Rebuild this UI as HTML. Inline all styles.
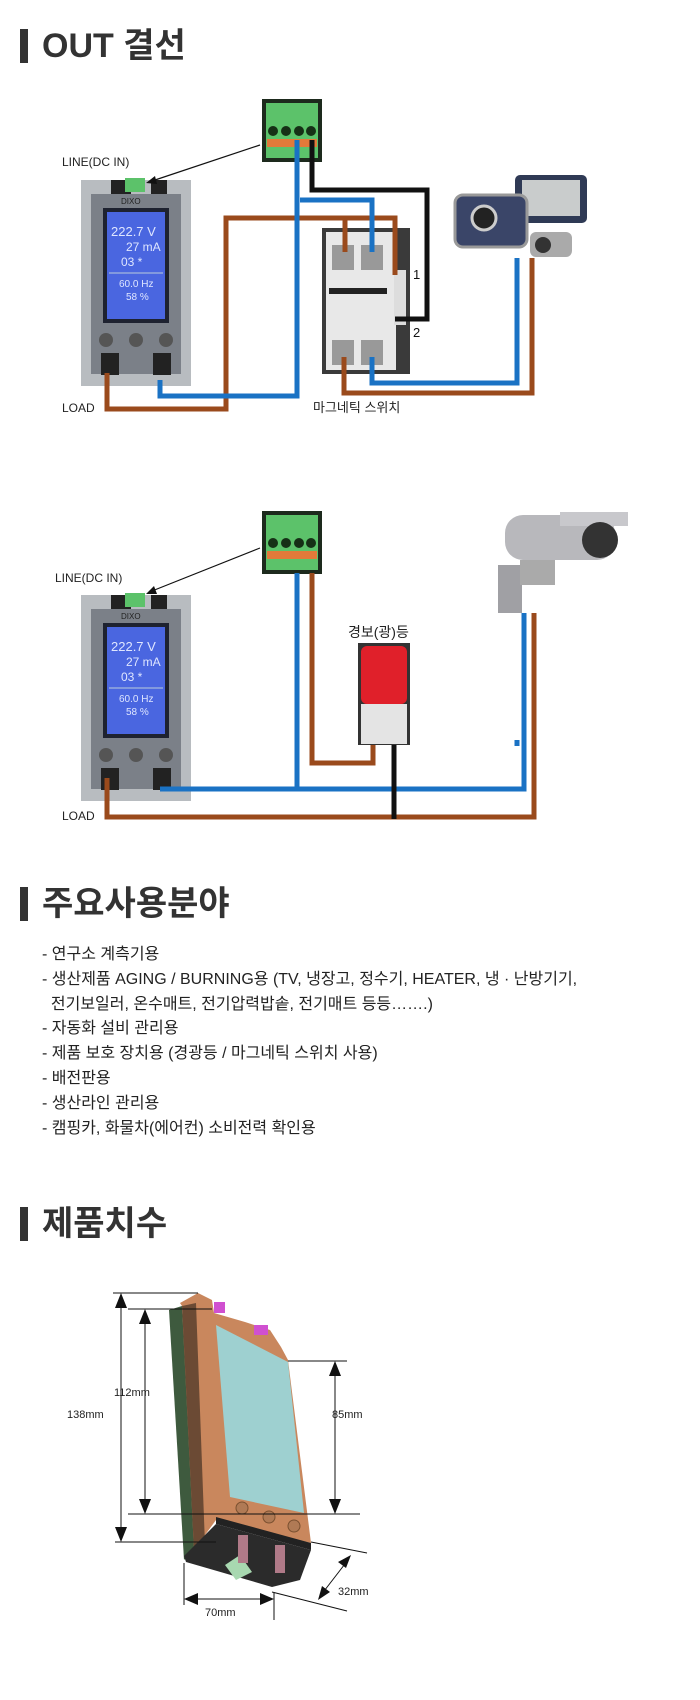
<!DOCTYPE html>
<html><head><meta charset="utf-8"><style>
html,body{margin:0;padding:0;background:#fff;}
body{width:700px;height:1700px;position:relative;overflow:hidden;font-family:"Liberation Sans","Noto Sans CJK KR",sans-serif;}
.h{position:absolute;left:20px;height:34px;border-left:8px solid #333;padding-left:14px;font-size:34px;line-height:34px;font-weight:bold;color:#333;}
.list{position:absolute;left:42px;top:943px;font-size:16px;line-height:24.8px;color:#222;white-space:nowrap;}
</style></head><body>
<div class="h" style="top:29px">OUT 결선</div>
<div class="h" style="top:887px">주요사용분야</div>
<div class="h" style="top:1207px">제품치수</div>
<div class="list">- 연구소 계측기용<br>- 생산제품 AGING / BURNING용 (TV, 냉장고, 정수기, HEATER, 냉 · 난방기기,<br>&nbsp;&nbsp;전기보일러, 온수매트, 전기압력밥솥, 전기매트 등등…….)<br>- 자동화 설비 관리용<br>- 제품 보호 장치용 (경광등 / 마그네틱 스위치 사용)<br>- 배전판용<br>- 생산라인 관리용<br>- 캠핑카, 화물차(에어컨) 소비전력 확인용</div>
<svg width="700" height="1700" style="position:absolute;left:0;top:0" font-family="Liberation Sans, Noto Sans CJK KR, sans-serif">
<defs>
<g id="conn">
<rect x="0" y="0" width="60" height="63" fill="#1d2a1d"/>
<rect x="4" y="4" width="52" height="55" fill="#5cc26a"/>
<circle cx="11" cy="32" r="5" fill="#163016"/><circle cx="24" cy="32" r="5" fill="#163016"/><circle cx="37" cy="32" r="5" fill="#163016"/><circle cx="49" cy="32" r="5" fill="#163016"/>
<rect x="5" y="40" width="50" height="8" fill="#e27a3a"/>
</g>
<g id="meter">
<rect x="0" y="0" width="110" height="206" fill="#b8bcc0"/>
<rect x="10" y="14" width="90" height="180" fill="#7b8088"/>
<rect x="22" y="28" width="66" height="115" fill="#1e2230"/>
<rect x="26" y="32" width="58" height="107" fill="#4a66e0"/>
<text x="30" y="56" font-size="13" fill="#dfe6ff">222.7 V</text>
<text x="45" y="71" font-size="12" fill="#dfe6ff">27 mA</text>
<text x="40" y="86" font-size="12" fill="#dfe6ff">03 *</text>
<line x1="28" y1="93" x2="82" y2="93" stroke="#bcd" stroke-width="1"/>
<text x="38" y="107" font-size="10" fill="#dfe6ff">60.0 Hz</text>
<text x="45" y="120" font-size="10" fill="#dfe6ff">58 %</text>
<text x="40" y="24" font-size="8" fill="#222">DIXO</text>
<circle cx="25" cy="160" r="7" fill="#555"/><circle cx="55" cy="160" r="7" fill="#555"/><circle cx="85" cy="160" r="7" fill="#555"/>
<rect x="20" y="173" width="18" height="22" fill="#222"/><rect x="72" y="173" width="18" height="22" fill="#222"/>
<rect x="30" y="0" width="20" height="14" fill="#222"/><rect x="70" y="0" width="16" height="14" fill="#222"/>
<rect x="44" y="-2" width="20" height="14" fill="#5cc26a"/>
</g>
</defs>
<use href="#conn" x="262" y="99"/>
<use href="#meter" x="81" y="180"/>
<text x="62" y="166" font-size="12" fill="#222">LINE(DC IN)</text>
<line x1="260" y1="145" x2="152" y2="181" stroke="#111" stroke-width="1.2"/>
<polygon points="146,183 155,176 157,184" fill="#111"/>
<rect x="322" y="228" width="88" height="146" fill="#3a3a3a"/>
<rect x="326" y="232" width="70" height="138" fill="#e8e8e8"/>
<rect x="332" y="245" width="22" height="25" fill="#999"/><rect x="361" y="245" width="22" height="25" fill="#999"/>
<rect x="332" y="340" width="22" height="25" fill="#999"/><rect x="361" y="340" width="22" height="25" fill="#999"/>
<rect x="329" y="288" width="58" height="6" fill="#222"/>
<rect x="394" y="270" width="12" height="55" fill="#ddd"/>
<rect x="515" y="175" width="72" height="48" rx="5" fill="#2f3a55"/><rect x="522" y="180" width="58" height="36" fill="#c9cccc"/>
<rect x="455" y="195" width="72" height="52" rx="8" fill="#3a4568" stroke="#999" stroke-width="3"/>
<circle cx="484" cy="218" r="12" fill="#222" stroke="#ccc" stroke-width="3"/>
<rect x="530" y="232" width="42" height="25" rx="6" fill="#aaa"/><circle cx="543" cy="245" r="8" fill="#333"/>
<g fill="none" stroke-width="5" stroke-linejoin="miter">
<polyline points="107,373 107,409 226,409 226,218 395,218 395,275" stroke="#9a4a1c"/>
<polyline points="345,218 345,252" stroke="#9a4a1c"/>
<polyline points="297,140 297,396 160,396 160,380" stroke="#1a72c4"/>
<polyline points="300,200 372,200 372,252" stroke="#1a72c4"/>
<polyline points="312,140 312,190 427,190 427,319 395,319" stroke="#111"/>
<polyline points="372,357 372,383 517,383 517,258" stroke="#1a72c4"/>
<polyline points="344,357 344,393 532,393 532,258" stroke="#9a4a1c"/>
</g>
<text x="413" y="279" font-size="13" fill="#111">1</text>
<text x="413" y="337" font-size="13" fill="#111">2</text>
<text x="313" y="412" font-size="13" fill="#222">마그네틱 스위치</text>
<text x="62" y="412" font-size="12" fill="#222">LOAD</text>
<use href="#conn" x="262" y="511"/>
<use href="#meter" x="81" y="595"/>
<text x="55" y="582" font-size="12" fill="#222">LINE(DC IN)</text>
<line x1="260" y1="548" x2="152" y2="591" stroke="#111" stroke-width="1.2"/>
<polygon points="146,594 154,586 157,594" fill="#111"/>
<rect x="505" y="515" width="110" height="45" rx="18" fill="#b8b8bc"/>
<rect x="560" y="512" width="68" height="14" fill="#c8c8cc"/>
<circle cx="600" cy="540" r="18" fill="#333"/>
<rect x="498" y="565" width="24" height="48" fill="#a0a0a4"/>
<rect x="520" y="560" width="35" height="25" fill="#aaa"/>
<text x="348" y="637" font-size="14" fill="#222">경보(광)등</text>
<rect x="358" y="643" width="52" height="102" fill="#333"/>
<rect x="361" y="646" width="46" height="58" rx="6" fill="#e0202a"/>
<rect x="361" y="704" width="46" height="40" fill="#e4e4e4"/>
<g fill="none" stroke-width="5">
<polyline points="297,573 297,789" stroke="#1a72c4"/>
<polyline points="160,789 524,789 524,613" stroke="#1a72c4"/>
<polyline points="517,740 517,746" stroke="#1a72c4"/>
<polyline points="312,573 312,763 373,763 373,745" stroke="#9a4a1c"/>
<polyline points="107,778 107,817 534,817 534,613" stroke="#9a4a1c"/>
<polyline points="394,745 394,819" stroke="#111"/>
</g>
<text x="62" y="820" font-size="12" fill="#222">LOAD</text>
<polygon points="169,1310 182,1306 196,1546 184,1560" fill="#3e5a3e"/>
<polygon points="180,1303 198,1293 212,1300 214,1313 245,1322 270,1330 281,1347 288,1360 311,1543 216,1520 194,1550 182,1306" fill="#c9875d"/>
<polygon points="182,1306 194,1550 205,1545 196,1303" fill="#6b4a34"/>
<polygon points="216,1325 288,1362 304,1513 230,1497" fill="#9ed0d0"/>
<rect x="214" y="1302" width="11" height="11" fill="#d050d0"/><rect x="254" y="1325" width="14" height="10" fill="#d050d0"/>
<circle cx="242" cy="1508" r="6" fill="#b07a55" stroke="#7a5030"/><circle cx="269" cy="1517" r="6" fill="#b07a55" stroke="#7a5030"/><circle cx="294" cy="1526" r="6" fill="#b07a55" stroke="#7a5030"/>
<polygon points="216,1517 311,1543 311,1550 216,1524" fill="#222"/>
<polygon points="184,1556 216,1524 311,1550 300,1580 272,1587 186,1562" fill="#2b2b2b"/>
<polygon points="225,1565 240,1555 252,1572 236,1580" fill="#a8d8b0"/>
<rect x="238" y="1535" width="10" height="28" fill="#b07a88"/><rect x="275" y="1545" width="10" height="28" fill="#b07a88"/>
<g stroke="#111" stroke-width="1">
<line x1="113" y1="1293" x2="198" y2="1293"/>
<line x1="128" y1="1309" x2="212" y2="1309"/>
<line x1="128" y1="1514" x2="360" y2="1514"/>
<line x1="115" y1="1542" x2="216" y2="1542"/>
<line x1="288" y1="1361" x2="347" y2="1361"/>
<line x1="121" y1="1300" x2="121" y2="1535"/>
<line x1="145" y1="1316" x2="145" y2="1507"/>
<line x1="335" y1="1368" x2="335" y2="1507"/>
<line x1="184" y1="1563" x2="184" y2="1605"/>
<line x1="274" y1="1593" x2="274" y2="1620"/>
<line x1="190" y1="1599" x2="268" y2="1599"/>
<line x1="311" y1="1542" x2="367" y2="1553"/>
<line x1="272" y1="1592" x2="347" y2="1611"/>
<line x1="348" y1="1560" x2="321" y2="1595"/>
</g>
<g fill="#111">
<polygon points="121,1293 115,1308 127,1308"/><polygon points="121,1542 115,1527 127,1527"/>
<polygon points="145,1309 139,1324 151,1324"/><polygon points="145,1514 139,1499 151,1499"/>
<polygon points="335,1361 329,1376 341,1376"/><polygon points="335,1514 329,1499 341,1499"/>
<polygon points="184,1599 198,1593 198,1605"/><polygon points="274,1599 260,1593 260,1605"/>
<polygon points="351,1555 338,1562 346,1568"/><polygon points="318,1600 322,1586 330,1592"/>
</g>
<g font-size="11" fill="#222">
<text x="67" y="1418">138mm</text>
<text x="114" y="1396">112mm</text>
<text x="332" y="1418">85mm</text>
<text x="205" y="1616">70mm</text>
<text x="338" y="1595">32mm</text>
</g>
</svg>
</body></html>
